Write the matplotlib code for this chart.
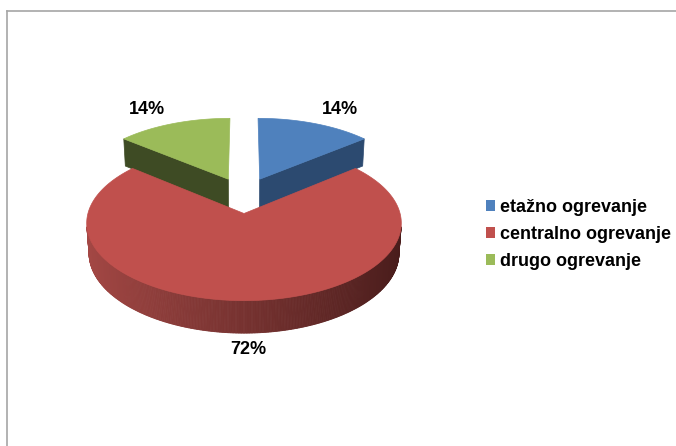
import numpy as np
import matplotlib.pyplot as plt
from matplotlib.patches import Polygon, Patch
from matplotlib.lines import Line2D

# podatki
labels = ['etažno ogrevanje', 'centralno ogrevanje', 'drugo ogrevanje']
values = [14, 72, 14]
top_colors = ['#4F81BD', '#C0504D', '#9BBB59']
side_colors = ['#2C4A70', '#C0504D', '#3E4B24']
wall_light = np.array([165, 72, 69]) / 255
wall_dark = np.array([72, 28, 27]) / 255

# kamera za 3D torto (polmer = 1)
cx, cy = 244, 195.0
elev = np.radians(28.3)
dist = 7.3
focal = 1105
depth = 0.222
explode = 0.25
sn, cs = np.sin(elev), np.cos(elev)
cam = np.array([0.0, -dist * cs, dist * sn])


def project(x, y, z):
    zc = dist + y * cs - z * sn
    return cx + focal * x / zc, cy - focal * (y * sn + z * cs) / zc


def pts(xs, ys, z):
    X, Y = project(np.asarray(xs, float), np.asarray(ys, float), z)
    return np.column_stack([X, Y])


def facing(nx, ny, px, py, pz):
    return nx * (cam[0] - px) + ny * (cam[1] - py) > 0


fig = plt.figure(figsize=(6.76, 4.46), dpi=100)
ax = fig.add_axes([0, 0, 1, 1])
ax.set_xlim(0, 676)
ax.set_ylim(446, 0)
ax.axis('off')

# okvir
fig.add_artist(Line2D([7 / 676, 1], [1 - 11 / 446] * 2, color='#a6a6a6', lw=1.2))
fig.add_artist(Line2D([7 / 676] * 2, [0, 1 - 11 / 446], color='#a6a6a6', lw=1.2))

total = sum(values)
slices = []
start = 90.0
for i, v in enumerate(values):
    t1 = start
    t2 = start - v / total * 360
    start = t2
    mid = np.radians((t1 + t2) / 2)
    ox, oy = explode * np.cos(mid), explode * np.sin(mid)
    slices.append((i, t1, t2, mid, ox, oy))

# najprej zadnji deli
for i, t1, t2, mid, ox, oy in sorted(slices, key=lambda s: -np.sin(s[3])):
    # stranske ploskve ob robovih
    for ang, nang in ((t1, t1 + 90), (t2, t2 - 90)):
        a, na = np.radians(ang), np.radians(nang)
        xs = [ox, ox + np.cos(a)]
        ys = [oy, oy + np.sin(a)]
        if facing(np.cos(na), np.sin(na), np.mean(xs), np.mean(ys), 0) and abs(np.sin(na)) > 1e-6:
            face = np.vstack([pts(xs, ys, 0), pts(xs[::-1], ys[::-1], -depth)])
            ax.add_patch(Polygon(face, closed=True, fc=side_colors[i],
                                 ec=side_colors[i], lw=0.5))
    # zunanja stena, senčena od leve proti desni
    phi = np.radians(np.linspace(t2, t1, 500))
    vis = facing(np.cos(phi), np.sin(phi), ox + np.cos(phi), oy + np.sin(phi), 0)
    for j in range(len(phi) - 1):
        if vis[j] and vis[j + 1]:
            p = phi[j:j + 2]
            xs, ys = ox + np.cos(p), oy + np.sin(p)
            quad = np.vstack([pts(xs, ys, 0), pts(xs[::-1], ys[::-1], -depth)])
            t = (1 + np.cos(p.mean())) / 2
            c = wall_light + (wall_dark - wall_light) * t
            ax.add_patch(Polygon(quad, closed=True, fc=c, ec=c, lw=0.6))
    # zgornja ploskev
    phi = np.radians(np.linspace(t1, t2, 300))
    xs = np.concatenate([[ox], ox + np.cos(phi)])
    ys = np.concatenate([[oy], oy + np.sin(phi)])
    ax.add_patch(Polygon(pts(xs, ys, 0), closed=True, fc=top_colors[i],
                         ec=top_colors[i], lw=0.5))

# oznake odstotkov
for i, t1, t2, mid, ox, oy in slices:
    ex, ey = ox + np.cos(mid), oy + np.sin(mid)
    c = np.cos(mid)
    if np.sin(mid) < 0:
        X, Y = project(ex, ey, -depth)
        Y += 16
    else:
        X, Y = project(ex, ey, 0)
        Y -= 14
    if c > 0.1:
        ha, X = 'left', X + 7
    elif c < -0.1:
        ha, X = 'right', X - 8
    else:
        ha, X = 'center', X + 4
    ax.text(X, Y, f'{values[i] / total * 100:.0f}%', ha=ha, va='center',
            fontsize=13, fontweight='bold', family='Liberation Sans')

handles = [Patch(fc=c, ec='none') for c in top_colors]
ax.legend(handles, labels, loc='upper left', bbox_to_anchor=(486 / 676, 1 - 199 / 446),
          frameon=False, handlelength=0.5, handleheight=0.5, handletextpad=0.28,
          labelspacing=0.55, borderpad=0, borderaxespad=0,
          prop={'family': 'Liberation Sans', 'weight': 'bold', 'size': 13})

fig.savefig('out.png', dpi=100, facecolor='white')
